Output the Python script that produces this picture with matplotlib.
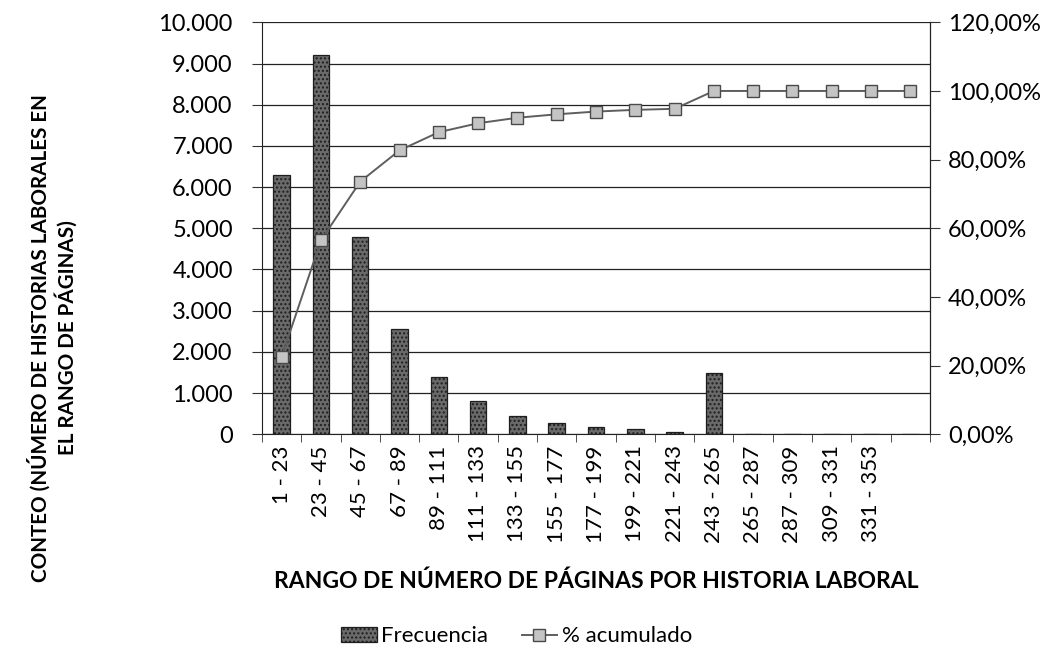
import numpy as np
import matplotlib
matplotlib.use("Agg")
import matplotlib.pyplot as plt
from matplotlib.ticker import FuncFormatter, FixedLocator

plt.rcParams['font.family'] = ['Lato', 'DejaVu Sans']
plt.rcParams['hatch.color'] = '#b0b0b0'

# datos
rangos = ["1 - 23", "23 - 45", "45 - 67", "67 - 89", "89 - 111", "111 - 133",
          "133 - 155", "155 - 177", "177 - 199", "199 - 221", "221 - 243",
          "243 - 265", "265 - 287", "287 - 309", "309 - 331", "331 - 353", ""]
frecuencia = [6300, 9200, 4800, 2550, 1400, 800, 450, 270, 180, 120, 50,
              1480, 0, 0, 0, 0, 0]
acumulado = [22.6, 56.5, 73.6, 82.7, 88.0, 90.6, 92.2, 93.2, 94.0, 94.5, 94.8,
             100.0, 100.0, 100.0, 100.0, 100.0, 100.0]

fig = plt.figure(figsize=(10.54, 6.56), dpi=100)
ax = fig.add_axes([0.2486, 0.338, 0.6337, 0.628])
x = np.arange(len(rangos))

ax.bar(x, frecuencia, width=0.42, color='#6a6a6a', edgecolor='#1e1e1e',
       linewidth=0.9, hatch='....', zorder=3, label='Frecuencia')

ax.set_xlim(-0.5, len(rangos) - 0.5)
ax.set_ylim(0, 10000)
ax.yaxis.set_major_locator(FixedLocator(np.arange(0, 10001, 1000)))
ax.yaxis.set_major_formatter(FuncFormatter(lambda v, p: f"{int(v):,}".replace(",", ".")))
ax.grid(axis='y', color='#222222', linewidth=0.9, zorder=0)
ax.set_xticks(x)
ax.set_xticklabels(rangos, rotation=90, fontsize=16)
ax.set_xticks(np.arange(-0.5, len(rangos), 1), minor=True)
ax.tick_params(axis='x', which='major', length=0, pad=8)
ax.tick_params(axis='x', which='minor', length=6, direction='out', color='#333333')
ax.tick_params(axis='y', labelsize=17, length=7, pad=14, color='#333333')
ax.spines['top'].set_visible(False)
ax.spines['left'].set_color('#222222')
ax.spines['bottom'].set_color('#222222')

ax2 = ax.twinx()
ax2.plot(x, acumulado, color='#5e5e5e', linewidth=1.4, marker='s',
         markersize=9, markerfacecolor='#c4c4c4', markeredgecolor='#4a4a4a',
         markeredgewidth=1, zorder=4, label='% acumulado')
ax2.set_ylim(0, 120)
ax2.yaxis.set_major_locator(FixedLocator(np.arange(0, 121, 20)))
ax2.yaxis.set_major_formatter(FuncFormatter(lambda v, p: f"{v:.2f}%".replace(".", ",")))
ax2.tick_params(axis='y', labelsize=17, length=7, pad=6, color='#333333')
for s in ['top', 'left', 'bottom']:
    ax2.spines[s].set_visible(False)
ax2.spines['right'].set_color('#222222')

ax.set_xlabel("RANGO DE NÚMERO DE PÁGINAS POR HISTORIA LABORAL",
              fontsize=16.5, fontweight='bold', labelpad=20)
fig.text(0.05, 0.485, "CONTEO (NÚMERO DE HISTORIAS LABORALES EN\nEL RANGO DE PÁGINAS)",
         rotation=90, ha='center', va='center', multialignment='center',
         fontsize=14.9, fontweight='bold', linespacing=1.25)

h1, l1 = ax.get_legend_handles_labels()
h2, l2 = ax2.get_legend_handles_labels()
fig.legend(h1 + h2, l1 + l2, loc='center', bbox_to_anchor=(0.49, 0.03),
           ncol=2, frameon=False, fontsize=16, columnspacing=1.5,
           handlelength=1.6, handletextpad=0.2)

fig.savefig("out.png", dpi=100)
